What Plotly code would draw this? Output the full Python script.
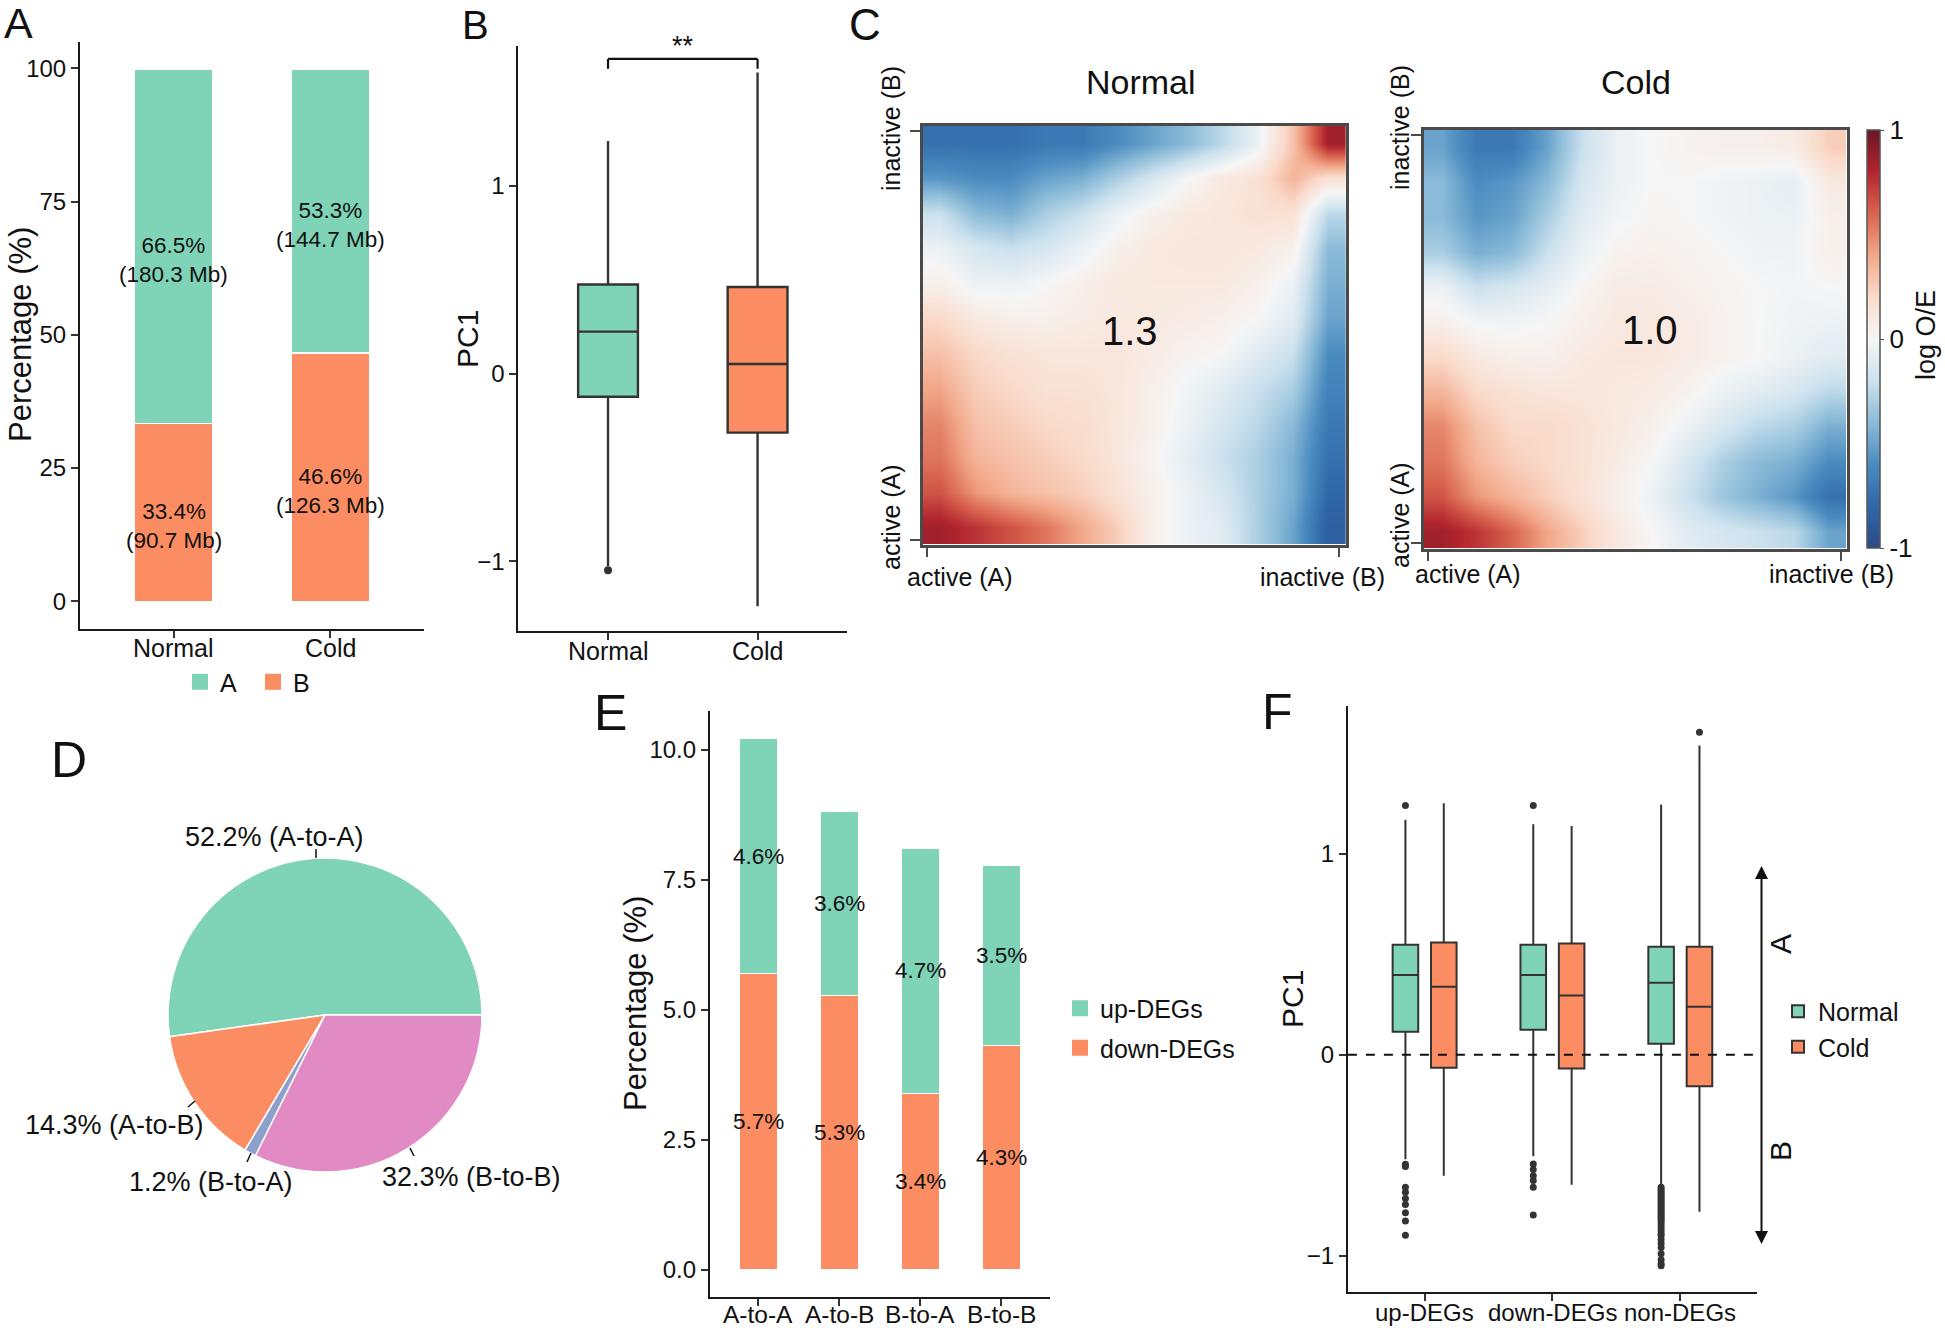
import plotly.graph_objects as go

# ---------------- data ----------------
# Panel A
A_categories = ["Normal", "Cold"]
A_pct_A = [66.5, 53.3]
A_pct_B = [33.4, 46.6]
A_mb_A = [180.3, 144.7]
A_mb_B = [90.7, 126.3]

# Panel B (PC1 box statistics)
B_groups = ["Normal", "Cold"]
B_q1 = [-0.123, -0.314]
B_median = [0.224, 0.052]
B_q3 = [0.475, 0.462]
B_lower = [-1.025, -1.238]
B_upper = [1.240, 1.605]
B_outliers_normal = [-1.047]
B_signif = "**"

# Panel C (saddle plots, log O/E, rows from inactive (top) to active (bottom))
C_normal = [
    [-0.75, -0.75, -0.75, -0.70, -0.70, -0.60, -0.50, -0.40, -0.25, -0.05, 0.30, 0.85],
    [-0.55, -0.60, -0.60, -0.50, -0.45, -0.30, -0.15, 0.00, 0.10, 0.15, 0.35, 0.15],
    [-0.20, -0.40, -0.45, -0.30, -0.20, -0.05, 0.05, 0.10, 0.12, 0.15, 0.15, -0.25],
    [-0.05, -0.15, -0.20, -0.15, -0.05, 0.05, 0.10, 0.12, 0.12, 0.10, 0.05, -0.40],
    [0.05, -0.05, -0.05, 0.00, 0.05, 0.10, 0.10, 0.10, 0.10, 0.05, -0.05, -0.45],
    [0.20, 0.10, 0.05, 0.05, 0.08, 0.10, 0.10, 0.08, 0.05, 0.00, -0.10, -0.50],
    [0.30, 0.20, 0.15, 0.12, 0.12, 0.12, 0.08, 0.03, 0.00, -0.10, -0.20, -0.60],
    [0.40, 0.25, 0.20, 0.15, 0.15, 0.12, 0.05, -0.02, -0.10, -0.20, -0.30, -0.65],
    [0.50, 0.30, 0.25, 0.20, 0.18, 0.12, 0.05, -0.05, -0.15, -0.25, -0.40, -0.70],
    [0.55, 0.35, 0.30, 0.25, 0.20, 0.12, 0.02, -0.08, -0.20, -0.30, -0.45, -0.75],
    [0.65, 0.45, 0.35, 0.30, 0.25, 0.15, 0.05, -0.05, -0.15, -0.30, -0.45, -0.80],
    [0.85, 0.75, 0.65, 0.55, 0.40, 0.25, 0.05, -0.05, -0.10, -0.30, -0.50, -0.85],
]
C_cold = [
    [-0.50, -0.70, -0.70, -0.50, -0.20, -0.05, 0.00, 0.03, 0.05, 0.05, 0.08, 0.25],
    [-0.40, -0.60, -0.55, -0.40, -0.15, -0.05, 0.00, 0.00, -0.03, -0.05, -0.08, 0.10],
    [-0.40, -0.55, -0.50, -0.30, -0.10, -0.02, 0.02, 0.00, -0.03, -0.05, -0.05, 0.05],
    [-0.30, -0.45, -0.40, -0.20, -0.05, 0.03, 0.05, 0.03, 0.00, -0.03, -0.03, 0.05],
    [-0.05, -0.20, -0.15, -0.08, 0.02, 0.08, 0.08, 0.05, 0.02, 0.00, -0.02, 0.00],
    [0.05, -0.02, -0.03, 0.00, 0.05, 0.10, 0.10, 0.08, 0.03, 0.00, -0.03, -0.05],
    [0.20, 0.10, 0.05, 0.05, 0.10, 0.12, 0.12, 0.08, 0.03, 0.00, -0.05, -0.10],
    [0.35, 0.20, 0.15, 0.12, 0.12, 0.10, 0.08, 0.03, -0.05, -0.10, -0.15, -0.25],
    [0.50, 0.30, 0.20, 0.20, 0.15, 0.10, 0.05, -0.05, -0.15, -0.25, -0.30, -0.45],
    [0.55, 0.35, 0.25, 0.20, 0.15, 0.08, 0.00, -0.15, -0.30, -0.40, -0.45, -0.60],
    [0.65, 0.45, 0.35, 0.25, 0.15, 0.05, -0.05, -0.20, -0.35, -0.45, -0.55, -0.75],
    [0.85, 0.75, 0.60, 0.40, 0.25, 0.10, 0.00, -0.10, -0.15, -0.20, -0.25, -0.50],
]
C_titles = ["Normal", "Cold"]
C_strength = ["1.3", "1.0"]

# Panel D
D_labels = ["A-to-A", "A-to-B", "B-to-A", "B-to-B"]
D_values = [52.2, 14.3, 1.2, 32.3]

# Panel E
E_categories = ["A-to-A", "A-to-B", "B-to-A", "B-to-B"]
E_down = [5.69, 5.27, 3.39, 4.31]
E_up = [4.52, 3.54, 4.71, 3.46]
E_down_text = ["5.7%", "5.3%", "3.4%", "4.3%"]
E_up_text = ["4.6%", "3.6%", "4.7%", "3.5%"]

# Panel F
F_groups = ["up-DEGs", "down-DEGs", "non-DEGs"]
F_norm_q1 = [0.115, 0.125, 0.055]
F_norm_med = [0.398, 0.398, 0.359]
F_norm_q3 = [0.548, 0.548, 0.538]
F_norm_low = [-0.520, -0.505, -0.653]
F_norm_up = [1.170, 1.148, 1.246]
F_cold_q1 = [-0.064, -0.068, -0.156]
F_cold_med = [0.339, 0.296, 0.240]
F_cold_q3 = [0.559, 0.554, 0.538]
F_cold_low = [-0.602, -0.647, -0.782]
F_cold_up = [1.253, 1.140, 1.540]
F_norm_out_up = [1.242, -0.545, -0.556, -0.659, -0.684, -0.715, -0.745, -0.786, -0.828, -0.899]
F_norm_out_down = [1.242, -0.544, -0.571, -0.602, -0.626, -0.659, -0.797]
F_norm_out_non = [-0.66, -0.67, -0.68, -0.69, -0.70, -0.71, -0.72, -0.73, -0.74, -0.75,
                  -0.76, -0.77, -0.78, -0.79, -0.80, -0.81, -0.82, -0.83, -0.845, -0.86,
                  -0.875, -0.89, -0.90, -0.92, -0.94, -0.96, -0.99, -1.02, -1.04, -1.05]
F_cold_out_non = [1.606]

# ---------------- style ----------------
W, H = 1945, 1328
FONT = "Liberation Sans, Arial, sans-serif"
TXT = "#111111"
TEAL = "#7FD3B7"
ORANGE = "#FC8D62"
BLUE = "#8DA0CB"
PINK = "#E28AC3"
BOXLINE = "#333333"

def px(x):
    return x / W

def py(y):
    return 1 - y / H

def dx(a, b):
    return [a / W, b / W]

def dy(top, bottom):
    return [1 - bottom / H, 1 - top / H]

def txt(text, x, y, size, angle=0, xanchor="center", yanchor="middle"):
    return dict(text=text, x=px(x), y=py(y), xref="paper", yref="paper", showarrow=False,
                font=dict(size=size, family=FONT, color=TXT), textangle=angle,
                xanchor=xanchor, yanchor=yanchor)

def cat_label(text, xref, y, size=25):
    return dict(text=text, x=text, xref=xref, y=py(y), yref="paper", showarrow=False,
                font=dict(size=size, family=FONT, color=TXT), xanchor="center", yanchor="middle")

def gg_axis(**kw):
    base = dict(showline=True, linecolor="#1a1a1a", linewidth=2, ticks="outside", ticklen=7,
                tickwidth=1.8, tickcolor="#333333", showgrid=False, zeroline=False,
                tickfont=dict(size=24, color=TXT, family=FONT), automargin=False, fixedrange=True)
    base.update(kw)
    return base

fig = go.Figure()
annotations = []
shapes = []

# ---------------- Panel A ----------------
fig.add_trace(go.Bar(x=A_categories, y=A_pct_B, width=0.5, name="B",
                     marker=dict(color=ORANGE, line=dict(color="white", width=1.5)),
                     xaxis="x", yaxis="y", showlegend=False, hoverinfo="skip"))
fig.add_trace(go.Bar(x=A_categories, y=A_pct_A, width=0.5, name="A",
                     marker=dict(color=TEAL, line=dict(color="white", width=1.5)),
                     xaxis="x", yaxis="y", showlegend=False, hoverinfo="skip"))
for nm, col in [("A", TEAL), ("B", ORANGE)]:
    fig.add_trace(go.Scatter(x=[None], y=[None], mode="markers", name=nm,
                             marker=dict(symbol="square", size=19, color=col),
                             xaxis="x", yaxis="y", legend="legend"))
for i, cat in enumerate(A_categories):
    annotations.append(dict(x=cat, y=A_pct_B[i] / 2, xref="x", yref="y", yshift=-14,
                            text=f"{A_pct_B[i]}%<br>({A_mb_B[i]} Mb)", showarrow=False,
                            font=dict(size=22.5, family=FONT, color=TXT)))
    annotations.append(dict(x=cat, y=A_pct_B[i] + A_pct_A[i] / 2, xref="x", yref="y", yshift=-14,
                            text=f"{A_pct_A[i]}%<br>({A_mb_A[i]} Mb)", showarrow=False,
                            font=dict(size=22.5, family=FONT, color=TXT)))
    annotations.append(cat_label(cat, "x", 648))

# ---------------- Panel B ----------------
for i, (g, col) in enumerate(zip(B_groups, [TEAL, ORANGE])):
    fig.add_trace(go.Box(x=[g], q1=[B_q1[i]], median=[B_median[i]], q3=[B_q3[i]],
                         lowerfence=[B_lower[i]], upperfence=[B_upper[i]], fillcolor=col,
                         line=dict(color=BOXLINE, width=2.4), width=0.4, whiskerwidth=0,
                         boxpoints=False, offsetgroup="B", xaxis="x2", yaxis="y2",
                         showlegend=False, hoverinfo="skip"))
    annotations.append(cat_label(g, "x2", 651))
fig.add_trace(go.Scatter(x=[B_groups[0]] * len(B_outliers_normal), y=B_outliers_normal,
                         mode="markers", marker=dict(color=BOXLINE, size=8), offsetgroup="B",
                         xaxis="x2", yaxis="y2", showlegend=False, hoverinfo="skip"))
for (x0, y0, x1, y1) in [(0, 1.624, 0, 1.677), (0, 1.677, 1, 1.677), (1, 1.677, 1, 1.624)]:
    shapes.append(dict(type="line", xref="x2", yref="y2", x0=x0, y0=y0, x1=x1, y1=y1,
                       line=dict(color="#111111", width=2.2)))
annotations.append(dict(x=0.5, y=1.70, xref="x2", yref="y2", text=B_signif, showarrow=False,
                        yanchor="bottom", yshift=-8, font=dict(size=27, family=FONT, color=TXT)))

# ---------------- Panel C ----------------
colorscale = [
    [0.0, "#2C4A86"], [0.1, "#2F67A8"], [0.2, "#4A8BC0"], [0.3, "#8BBBD8"], [0.4, "#CCE1EE"],
    [0.5, "#F6F6F6"], [0.6, "#FADBCB"], [0.7, "#F2A88A"], [0.8, "#D9644F"], [0.9, "#B2242E"],
    [1.0, "#6B1624"],
]
fig.add_trace(go.Heatmap(z=C_normal, coloraxis="coloraxis", zsmooth="best",
                         xaxis="x3", yaxis="y3", hoverinfo="skip"))
fig.add_trace(go.Heatmap(z=C_cold, coloraxis="coloraxis", zsmooth="best",
                         xaxis="x4", yaxis="y4", hoverinfo="skip"))

# ---------------- Panel D ----------------
D_rotation = 90 - D_values[0] / sum(D_values) * 360
fig.add_trace(go.Pie(labels=D_labels, values=D_values, sort=False, direction="counterclockwise",
                     rotation=D_rotation, textinfo="none", hoverinfo="skip", showlegend=False,
                     marker=dict(colors=[TEAL, ORANGE, BLUE, PINK], line=dict(color="white", width=1.5)),
                     domain=dict(x=dx(168, 482), y=dy(858, 1172))))

# ---------------- Panel E ----------------
fig.add_trace(go.Bar(x=E_categories, y=E_down, width=0.48, name="down-DEGs",
                     marker=dict(color=ORANGE, line=dict(color="white", width=1.5)),
                     xaxis="x5", yaxis="y5", showlegend=False, hoverinfo="skip"))
fig.add_trace(go.Bar(x=E_categories, y=E_up, width=0.48, name="up-DEGs",
                     marker=dict(color=TEAL, line=dict(color="white", width=1.5)),
                     xaxis="x5", yaxis="y5", showlegend=False, hoverinfo="skip"))
for nm, col in [("up-DEGs", TEAL), ("down-DEGs", ORANGE)]:
    fig.add_trace(go.Scatter(x=[None], y=[None], mode="markers", name=nm,
                             marker=dict(symbol="square", size=20, color=col),
                             xaxis="x5", yaxis="y5", legend="legend2", legendgroup=nm))
for i, cat in enumerate(E_categories):
    annotations.append(dict(x=cat, y=E_down[i] / 2, xref="x5", yref="y5", text=E_down_text[i],
                            showarrow=False, font=dict(size=22.5, family=FONT, color=TXT)))
    annotations.append(dict(x=cat, y=E_down[i] + E_up[i] / 2, xref="x5", yref="y5", text=E_up_text[i],
                            showarrow=False, font=dict(size=22.5, family=FONT, color=TXT)))
    annotations.append(cat_label(cat, "x5", 1314, size=24.5))

# ---------------- Panel F ----------------
fig.add_trace(go.Box(x=F_groups, q1=F_norm_q1, median=F_norm_med, q3=F_norm_q3,
                     lowerfence=F_norm_low, upperfence=F_norm_up, name="Normal", fillcolor=TEAL,
                     line=dict(color=BOXLINE, width=2), whiskerwidth=0, boxpoints=False,
                     offsetgroup="N", xaxis="x6", yaxis="y6", legend="legend3", hoverinfo="skip"))
fig.add_trace(go.Box(x=F_groups, q1=F_cold_q1, median=F_cold_med, q3=F_cold_q3,
                     lowerfence=F_cold_low, upperfence=F_cold_up, name="Cold", fillcolor=ORANGE,
                     line=dict(color=BOXLINE, width=2), whiskerwidth=0, boxpoints=False,
                     offsetgroup="C", xaxis="x6", yaxis="y6", legend="legend3", hoverinfo="skip"))
norm_out_x = ([F_groups[0]] * len(F_norm_out_up) + [F_groups[1]] * len(F_norm_out_down)
              + [F_groups[2]] * len(F_norm_out_non))
norm_out_y = F_norm_out_up + F_norm_out_down + F_norm_out_non
fig.add_trace(go.Scatter(x=norm_out_x, y=norm_out_y, mode="markers", offsetgroup="N",
                         marker=dict(color=BOXLINE, size=7), xaxis="x6", yaxis="y6",
                         showlegend=False, hoverinfo="skip"))
fig.add_trace(go.Scatter(x=[F_groups[2]] * len(F_cold_out_non), y=F_cold_out_non, mode="markers",
                         offsetgroup="C", marker=dict(color=BOXLINE, size=7), xaxis="x6", yaxis="y6",
                         showlegend=False, hoverinfo="skip"))
for g in F_groups:
    annotations.append(cat_label(g, "x6", 1312, size=24))
shapes.append(dict(type="line", xref="x6 domain", yref="y6", x0=0, x1=1.011, y0=0, y1=0,
                   line=dict(color="#111111", width=2, dash="dash")))
annotations.append(dict(x=1.011, y=0.94, xref="x6 domain", yref="y6", ax=1.011, ay=-0.95,
                        axref="x6 domain", ayref="y6", text="", showarrow=True, arrowhead=2,
                        arrowside="end+start", arrowwidth=2, arrowsize=1.3, arrowcolor="#111111"))
annotations.append(txt("A", 1780, 944, 30, angle=-90))
annotations.append(txt("B", 1780, 1151, 30, angle=-90))

# ---------------- text annotations ----------------
annotations += [
    txt("A", 18, 23, 43), txt("B", 475, 25, 40), txt("C", 865, 24, 44),
    txt("D", 69, 760, 50), txt("E", 610, 713, 50), txt("F", 1277, 712, 50),
    txt("Percentage (%)", 21, 335, 31, angle=-90),
    txt("PC1", 468, 339, 30, angle=-90),
    txt("Percentage (%)", 635, 1004, 31, angle=-90),
    txt("PC1", 1292, 999, 30, angle=-90),
    # heatmap texts
    txt(C_titles[0], 1141, 82, 34), txt(C_titles[1], 1636, 82, 34),
    txt(C_strength[0], 1130, 331, 40), txt(C_strength[1], 1650, 330, 40),
    txt("inactive (B)", 891, 129, 25, angle=-90), txt("active (A)", 891, 517, 25, angle=-90),
    txt("inactive (B)", 1400, 128, 25, angle=-90), txt("active (A)", 1400, 515, 25, angle=-90),
    txt("active (A)", 960, 577, 25), txt("inactive (B)", 1322, 577, 25),
    txt("active (A)", 1468, 574, 25), txt("inactive (B)", 1831, 574, 25),
    txt("log O/E", 1926, 335, 27, angle=-90),
    # pie labels
    txt(f"{D_values[0]}% ({D_labels[0]})", 274, 837, 27),
    txt(f"{D_values[1]}% ({D_labels[1]})", 114, 1125, 27),
    txt(f"{D_values[2]}% ({D_labels[2]})", 211, 1182, 27),
    txt(f"{D_values[3]}% ({D_labels[3]})", 471, 1177, 27),
]
for (x0, y0, x1, y1) in [(316, 849, 316, 858), (188, 1107, 195, 1101),
                         (247, 1162, 251, 1153), (414, 1156, 410, 1148)]:
    shapes.append(dict(type="line", xref="paper", yref="paper", x0=px(x0), y0=py(y0),
                       x1=px(x1), y1=py(y1), line=dict(color="#111111", width=1.5)))

heat_axis = dict(showline=True, mirror=True, linecolor="#4a4a4a", linewidth=2.5, ticks="outside",
                 ticklen=10, tickwidth=2, tickcolor="#4a4a4a", showgrid=False, zeroline=False,
                 showticklabels=False, fixedrange=True, automargin=False)

fig.update_layout(
    width=W, height=H, autosize=False,
    margin=dict(l=0, r=0, t=0, b=0),
    paper_bgcolor="white", plot_bgcolor="white",
    font=dict(family=FONT, color=TXT),
    barmode="stack", boxmode="group", boxgap=0.4, boxgroupgap=0.333,
    scattermode="group", scattergap=0.4,
    xaxis=gg_axis(domain=dx(80, 424), range=[-0.6, 1.6], anchor="y", showticklabels=False),
    yaxis=gg_axis(domain=dy(42, 628.6), range=[-5.12, 104.94], anchor="x",
                  tickvals=[0, 25, 50, 75, 100]),
    xaxis2=gg_axis(domain=dx(518.3, 847.3), range=[-0.6, 1.6], anchor="y2", showticklabels=False),
    yaxis2=gg_axis(domain=dy(46.3, 631.3), range=[-1.372, 1.744], anchor="x2",
                   tickvals=[-1, 0, 1]),
    xaxis3=dict(heat_axis, domain=dx(922.7, 1346), range=[-0.5, 11.5], anchor="y3",
                tickvals=[-0.38, 11.3]),
    yaxis3=dict(heat_axis, domain=dy(126, 544.5), range=[11.5, -0.5], anchor="x3",
                tickvals=[-0.36, 11.38]),
    xaxis4=dict(heat_axis, domain=dx(1424, 1846.5), range=[-0.5, 11.5], anchor="y4",
                tickvals=[-0.38, 11.35]),
    yaxis4=dict(heat_axis, domain=dy(130, 548.5), range=[11.5, -0.5], anchor="x4",
                tickvals=[-0.36, 11.35]),
    xaxis5=gg_axis(domain=dx(709.9, 1049.8), range=[-0.6, 3.6], anchor="y5", showticklabels=False),
    yaxis5=gg_axis(domain=dy(711, 1296.5), range=[-0.515, 10.74], anchor="x5",
                   tickvals=[0, 2.5, 5, 7.5, 10], ticktext=["0.0", "2.5", "5.0", "7.5", "10.0"]),
    xaxis6=gg_axis(domain=dx(1347.9, 1757), range=[-0.6, 2.6], anchor="y6", showticklabels=False),
    yaxis6=gg_axis(domain=dy(705.6, 1291.6), range=[-1.179, 1.739], anchor="x6",
                   tickvals=[-1, 0, 1]),
    coloraxis=dict(colorscale=colorscale, cmin=-1, cmax=1,
                   colorbar=dict(x=px(1866.7), xanchor="left", y=py(130), yanchor="top",
                                 len=418, lenmode="pixels", thickness=13, thicknessmode="pixels",
                                 outlinewidth=1.5, outlinecolor="#555555", xpad=0, ypad=0,
                                 tickvals=[-1, 0, 1], ticktext=["-1", "0", "1"], ticks="outside",
                                 ticklen=4, tickcolor="#555555",
                                 tickfont=dict(size=26, family=FONT, color=TXT))),
    legend=dict(orientation="h", x=px(180), y=py(682), xanchor="left", yanchor="middle",
                font=dict(size=25, family=FONT, color=TXT), bgcolor="rgba(0,0,0,0)",
                itemsizing="trace", traceorder="normal", entrywidth=28, entrywidthmode="pixels"),
    legend2=dict(x=px(1060), y=py(1028), xanchor="left", yanchor="middle",
                 font=dict(size=25, family=FONT, color=TXT), bgcolor="rgba(0,0,0,0)",
                 itemsizing="trace", traceorder="grouped", tracegroupgap=4),
    legend3=dict(x=px(1778), y=py(1029), xanchor="left", yanchor="middle",
                 font=dict(size=25, family=FONT, color=TXT), bgcolor="rgba(0,0,0,0)",
                 traceorder="normal"),
    annotations=annotations,
    shapes=shapes,
)

fig.write_html("out.html", config={"displayModeBar": False},
               post_script="document.body.style.margin='0';document.body.style.overflow='hidden';")
